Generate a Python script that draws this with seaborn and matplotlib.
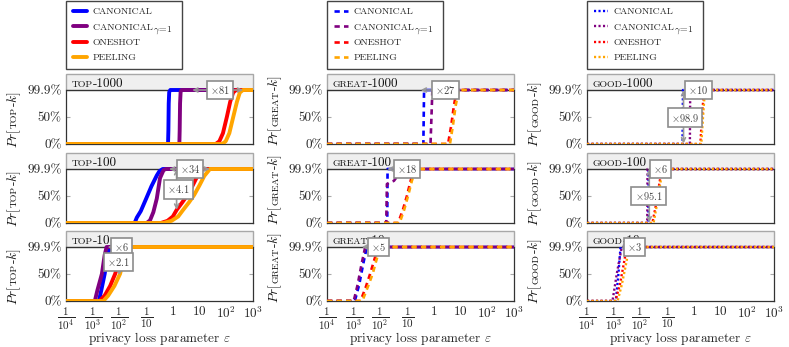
import matplotlib
matplotlib.use("Agg")
import matplotlib.pyplot as plt
import seaborn as sns
from matplotlib.lines import Line2D
from matplotlib.patches import Rectangle
from matplotlib.ticker import LogLocator, NullFormatter

sns.set_style("white")
plt.rcParams.update({
    "font.family": "cmr10",
    "mathtext.fontset": "cm",
    "axes.formatter.use_mathtext": True,
    "axes.unicode_minus": False,
})

# ---------------- data ----------------
MEASURES = ["TOP", "GREAT", "GOOD"]
K_VALUES = [1000, 100, 10]
METHODS = ["CANONICAL", "CANONICAL", "ONESHOT", "PEELING"]
METHOD_COLORS = ["#0000ff", "#800080", "#ff0000", "#ffa500"]
XTICKS = [1e-4, 1e-3, 1e-2, 1e-1, 1, 10, 100, 1000]
XTICK_LABELS = [r"$\frac{1}{10^4}$", r"$\frac{1}{10^3}$", r"$\frac{1}{10^2}$",
                r"$\frac{1}{10}$", r"$1$", r"$10$", r"$10^2$", r"$10^3$"]
YTICKS = [0, 0.5, 0.999]
YTICK_LABELS = ["0%", "50%", "99.9%"]

# (epsilon, Pr) per series
top1000_can = ([1e-4, 0.66, 0.68, 0.70, 0.73, 0.80, 1e3], [0, 0, 0.25, 0.75, 0.96, 0.999, 0.999])
top1000_can1 = ([1e-4, 1.75, 1.80, 1.86, 1.95, 2.1, 1e3], [0, 0, 0.25, 0.75, 0.96, 0.999, 0.999])
top1000_one = ([1e-4, 40, 55, 75, 105, 140, 180, 230, 1e3], [0, 0, 0.05, 0.2, 0.5, 0.78, 0.95, 0.999, 0.999])
top1000_peel = ([1e-4, 70, 95, 130, 182, 250, 320, 420, 1e3], [0, 0, 0.05, 0.2, 0.5, 0.78, 0.95, 0.999, 0.999])

top100_can = ([1e-4, 0.037, 0.0447, 0.063, 0.1, 0.158, 0.251, 0.316, 0.417, 1e3],
              [0, 0, 0.10, 0.22, 0.45, 0.68, 0.88, 0.96, 0.999, 0.999])
top100_can1 = ([1e-4, 0.105, 0.14, 0.186, 0.25, 0.33, 0.45, 0.56, 1e3],
               [0, 0, 0.05, 0.2, 0.45, 0.83, 0.98, 0.999, 0.999])
top100_one = ([1e-4, 0.355, 0.63, 1.0, 1.38, 2.24, 3.55, 5.6, 8.3, 12, 1e3],
              [0, 0, 0.04, 0.12, 0.24, 0.38, 0.52, 0.70, 0.87, 0.999, 0.999])
top100_peel = ([1e-4, 0.44, 0.89, 1.58, 2.4, 4.0, 6.3, 10, 15, 24.5, 1e3],
               [0, 0, 0.04, 0.12, 0.24, 0.38, 0.52, 0.70, 0.87, 0.999, 0.999])

top10_can = ([1e-4, 0.0017, 0.0021, 0.0028, 0.0036, 0.0045, 1e3], [0, 0, 0.2, 0.5, 0.85, 0.999, 0.999])
top10_can1 = ([1e-4, 0.0012, 0.0015, 0.0022, 0.0028, 0.0033, 1e3], [0, 0, 0.2, 0.5, 0.85, 0.999, 0.999])
top10_one = ([1e-4, 0.0018, 0.0028, 0.0045, 0.0069, 0.0105, 0.0162, 1e3], [0, 0, 0.1, 0.28, 0.5, 0.78, 0.999, 0.999])
top10_peel = ([1e-4, 0.0025, 0.0038, 0.0065, 0.0105, 0.015, 0.0214, 1e3], [0, 0, 0.1, 0.28, 0.5, 0.78, 0.999, 0.999])

great1000_can = ([1e-4, 0.405, 0.43, 1e3], [0, 0, 0.999, 0.999])
great1000_can1 = ([1e-4, 0.75, 0.88, 1e3], [0, 0, 0.999, 0.999])
great1000_one = ([1e-4, 3.4, 4.5, 5.6, 7.2, 1e3], [0, 0, 0.35, 0.7, 0.999, 0.999])
great1000_peel = ([1e-4, 4.0, 5.2, 6.5, 8.5, 1e3], [0, 0, 0.35, 0.7, 0.999, 0.999])

great100_can = ([1e-4, 0.0180, 0.0185, 1e3], [0, 0, 0.999, 0.999])
great100_can1 = ([1e-4, 0.0165, 0.0175, 0.022, 0.032, 0.045, 0.06, 1e3], [0, 0, 0.72, 0.75, 0.78, 0.88, 0.999, 0.999])
great100_one = ([1e-4, 0.046, 0.07, 0.098, 0.135, 0.18, 1e3], [0, 0, 0.25, 0.5, 0.78, 0.999, 0.999])
great100_peel = ([1e-4, 0.052, 0.078, 0.108, 0.15, 0.21, 1e3], [0, 0, 0.25, 0.5, 0.78, 0.999, 0.999])

great10_can = ([1e-4, 0.0011, 0.0016, 0.0023, 0.0031, 1e3], [0, 0, 0.3, 0.7, 0.999, 0.999])
great10_can1 = ([1e-4, 0.0010, 0.0014, 0.0020, 0.0027, 1e3], [0, 0, 0.3, 0.7, 0.999, 0.999])
great10_one = ([1e-4, 0.0018, 0.0028, 0.0041, 0.0058, 0.0083, 1e3], [0, 0, 0.25, 0.5, 0.75, 0.999, 0.999])
great10_peel = ([1e-4, 0.0021, 0.0033, 0.0051, 0.0070, 0.0098, 1e3], [0, 0, 0.25, 0.5, 0.75, 0.999, 0.999])

good1000_can = ([1e-4, 0.375, 0.39, 1e3], [0, 0, 0.999, 0.999])
good1000_can1 = ([1e-4, 0.71, 0.73, 1e3], [0, 0, 0.999, 0.999])
good1000_one = ([1e-4, 1.75, 2.0, 2.4, 1e3], [0, 0, 0.5, 0.999, 0.999])
good1000_peel = ([1e-4, 1.9, 2.2, 2.6, 1e3], [0, 0, 0.5, 0.999, 0.999])

good100_can = ([1e-4, 0.0198, 0.0202, 1e3], [0, 0, 0.999, 0.999])
good100_can1 = ([1e-4, 0.0180, 0.0184, 1e3], [0, 0, 0.999, 0.999])
good100_one = ([1e-4, 0.028, 0.037, 0.048, 0.063, 1e3], [0, 0, 0.3, 0.65, 0.999, 0.999])
good100_peel = ([1e-4, 0.031, 0.040, 0.052, 0.068, 1e3], [0, 0, 0.3, 0.65, 0.999, 0.999])

good10_can = ([1e-4, 0.0012, 0.0015, 0.0018, 1e3], [0, 0, 0.5, 0.999, 0.999])
good10_can1 = ([1e-4, 0.0009, 0.0013, 0.0020, 1e3], [0, 0, 0.5, 0.999, 0.999])
good10_one = ([1e-4, 0.00115, 0.0017, 0.0023, 0.0031, 1e3], [0, 0, 0.3, 0.65, 0.999, 0.999])
good10_peel = ([1e-4, 0.0014, 0.0020, 0.0028, 0.0038, 1e3], [0, 0, 0.3, 0.65, 0.999, 0.999])

# ratio labels shown in the boxes
RATIOS = {
    ("TOP", 1000): ["81"], ("TOP", 100): ["34", "4.1"], ("TOP", 10): ["6", "2.1"],
    ("GREAT", 1000): ["27"], ("GREAT", 100): ["18"], ("GREAT", 10): ["5"],
    ("GOOD", 1000): ["10", "98.9"], ("GOOD", 100): ["6", "95.1"], ("GOOD", 10): ["3"],
}

SERIES = {
    ("TOP", 1000): [top1000_can, top1000_can1, top1000_one, top1000_peel],
    ("TOP", 100): [top100_can, top100_can1, top100_one, top100_peel],
    ("TOP", 10): [top10_can, top10_can1, top10_one, top10_peel],
    ("GREAT", 1000): [great1000_can, great1000_can1, great1000_one, great1000_peel],
    ("GREAT", 100): [great100_can, great100_can1, great100_one, great100_peel],
    ("GREAT", 10): [great10_can, great10_can1, great10_one, great10_peel],
    ("GOOD", 1000): [good1000_can, good1000_can1, good1000_one, good1000_peel],
    ("GOOD", 100): [good100_can, good100_can1, good100_one, good100_peel],
    ("GOOD", 10): [good10_can, good10_can1, good10_one, good10_peel],
}

# ---------------- layout / style ----------------
ANNOT_POS = {
    ("TOP", 1000): [("h", (5.3, 430), 0.999, (59, 0.999))],
    ("TOP", 100): [("h", (0.72, 24.5), 0.999, (4.4, 0.999)), ("v", 1.38, (0.999, 0.244), (1.62, 0.62))],
    ("TOP", 10): [("h", (0.0036, 0.0214), 0.999, (0.0115, 0.999)), ("v", 0.010, (0.999, 0.476), (0.0091, 0.72))],
    ("GREAT", 1000): [("h", (0.32, 8.6), 0.999, (2.75, 0.999))],
    ("GREAT", 100): [("h", (0.018, 0.21), 0.999, (0.10, 0.999))],
    ("GREAT", 10): [("h", (0.002, 0.0098), 0.999, (0.0083, 0.999))],
    ("GOOD", 1000): [("h", (0.39, 2.6), 0.999, (1.48, 0.999)), ("v", 0.41, (0.999, 0.01), (0.47, 0.49))],
    ("GOOD", 100): [("h", (0.0185, 0.068), 0.999, (0.057, 0.999)), ("v", 0.0214, (0.999, 0.0105), (0.020, 0.50))],
    ("GOOD", 10): [("h", (0.0019, 0.0038), 0.999, (0.0058, 0.999))],
}

W, H = 789, 347
COL_LEFT = [66, 327, 587]
AX_W = 187
ROW_BOTTOM = [144, 223, 301]
AX_H = 70
YTOP = 1.295
COL_STYLES = [
    dict(lw=2.8, ls="-"),
    dict(lw=1.9, ls=(0, (2.0, 1.6))),
    dict(lw=1.7, ls=(0, (0.9, 1.0))),
]
YLAB_BOTTOM = {"TOP": -0.06, "GREAT": -0.03, "GOOD": -0.04}
YLAB_X = -0.262

fig = plt.figure(figsize=(W / 100, H / 100), dpi=100)
fig.patch.set_facecolor("white")


def chain_text(ax, x, y, pieces, rotated):
    """Place text pieces one after the other on a common baseline."""
    prev = None
    for s, size in pieces:
        kw = dict(fontsize=size, va="baseline", ha="left", rotation_mode="anchor",
                  annotation_clip=False, color="#111111", zorder=6)
        if rotated:
            kw["rotation"] = 90
            if prev is None:
                prev = ax.annotate(s, xy=(x, y), xycoords="axes fraction", **kw)
            else:
                prev = ax.annotate(s, xy=(x, 1), xycoords=(ax.transAxes, prev), **kw)
        else:
            if prev is None:
                prev = ax.annotate(s, xy=(x, y), xycoords="axes fraction", **kw)
            else:
                prev = ax.annotate(s, xy=(1, y), xycoords=(prev, ax.transAxes), **kw)
    return prev


for c, meas in enumerate(MEASURES):
    for r, k in enumerate(K_VALUES):
        ax = fig.add_axes([COL_LEFT[c] / W, 1 - ROW_BOTTOM[r] / H, AX_W / W, AX_H / H])
        ax.set_xscale("log")
        ax.set_facecolor("white")
        st = COL_STYLES[c]
        for (eps, pr), col in zip(SERIES[(meas, k)], METHOD_COLORS):
            sns.lineplot(x=eps, y=pr, ax=ax, color=col, estimator=None, sort=False,
                         legend=False, zorder=3)
            ln = ax.lines[-1]
            ln.set_linewidth(st["lw"])
            ln.set_linestyle(st["ls"])
            ln.set_solid_joinstyle("round")
            ln.set_solid_capstyle("butt")
            ln.set_dash_capstyle("butt")
        ax.set_xlim(1e-4, 1e3)
        ax.set_ylim(0, YTOP)

        # grey strip on top
        ax.add_patch(Rectangle((0, 0.999 / YTOP), 1, 1 - 0.999 / YTOP, transform=ax.transAxes,
                               facecolor="#efefef", edgecolor="#a8a8a8", lw=1.0, zorder=0.5,
                               clip_on=False))
        ax.axhline(0.999, color="#333333", lw=0.9, zorder=1)
        for s in ["left", "right"]:
            ax.spines[s].set_bounds(0, 0.999)
            ax.spines[s].set_color("#333333")
            ax.spines[s].set_linewidth(0.9)
        ax.spines["top"].set_visible(False)
        ax.spines["bottom"].set_color("#333333")
        ax.spines["bottom"].set_linewidth(0.9)

        ax.set_yticks(YTICKS)
        ax.set_yticklabels(YTICK_LABELS, fontsize=9.5)
        ax.set_xticks(XTICKS)
        ax.set_xticklabels(XTICK_LABELS, fontsize=9.5)
        for i, tl in enumerate(ax.get_xticklabels()):
            if i < 4:
                tl.set_fontsize(11.5)
        ax.xaxis.set_minor_locator(LogLocator(base=10, subs=range(2, 10), numticks=20))
        ax.xaxis.set_minor_formatter(NullFormatter())
        ax.tick_params(axis="x", which="major", direction="in", length=4.5, width=0.8,
                       color="#aaaaaa", labelbottom=(r == 2), pad=3)
        ax.tick_params(axis="x", which="minor", direction="in", length=3, width=0.7,
                       color="#aaaaaa")
        ax.tick_params(axis="y", which="major", direction="in", length=3, width=0.8,
                       color="#aaaaaa", left=True, right=True, pad=3)
        ax.set_xlabel("")
        ax.set_ylabel("")
        if r == 2:
            ax.set_xlabel(r"privacy loss parameter $\varepsilon$", fontsize=9.5)
            ax.xaxis.set_label_coords(0.5, -0.42)

        # strip title in small caps
        chain_text(ax, 0.03, 0.815, [(meas, 7), ("-%d" % k, 9.5)], rotated=False)
        # y label  Pr[MEAS-k]
        chain_text(ax, YLAB_X, YLAB_BOTTOM[meas],
                   [(r"$Pr[$", 9.5), (meas, 7), (r"-$k]$", 9.5)], rotated=True)

        # annotations
        for (kind, xs, ys, bpos), lab in zip(ANNOT_POS[(meas, k)], RATIOS[(meas, k)]):
            if kind == "h":
                p0, p1_ = (xs[0], ys), (xs[1], ys)
            else:
                p0, p1_ = (xs, ys[0]), (xs, ys[1])
            ax.annotate("", xy=p1_, xytext=p0,
                        arrowprops=dict(arrowstyle="<->", color="#999999", lw=1.2,
                                        shrinkA=0, shrinkB=0, mutation_scale=7),
                        zorder=5, annotation_clip=False)
            ax.text(bpos[0], bpos[1], r"$\times$" + lab, ha="center", va="center",
                    fontsize=7.5, color="#444444", zorder=7,
                    bbox=dict(boxstyle="square,pad=0.3", fc="white", ec="#8c8c8c", lw=1.2))

# legends
legends = []
for c in range(3):
    st = COL_STYLES[c]
    handles = [Line2D([], [], color=col, lw=st["lw"], ls=st["ls"]) for col in METHOD_COLORS]
    labels = ["CANONICAL", "CANONICAL       ", "ONESHOT", "PEELING"]
    leg = fig.legend(handles, labels, loc="upper left",
                     bbox_to_anchor=(COL_LEFT[c] / W, 1 - 0.5 / H),
                     fontsize=7, handlelength=1.45, handletextpad=0.6, borderpad=0.7,
                     labelspacing=0.68, borderaxespad=0, fancybox=False, framealpha=1,
                     edgecolor="#444444", facecolor="white")
    leg.get_frame().set_linewidth(1.0)
    legends.append(leg)

fig.canvas.draw()
rend = fig.canvas.get_renderer()
for leg in legends:
    t = leg.get_texts()[1]
    full = t.get_text()
    t.set_text("CANONICAL")
    bb = t.get_window_extent(rend)
    t.set_text(full)
    fig.text(bb.x1 / W + 0.5 / W, (bb.y0 - 0.5) / H, r"$\gamma\!=\!1$", fontsize=7,
             va="baseline", ha="left", zorder=20)

fig.savefig("out.png", dpi=100)
